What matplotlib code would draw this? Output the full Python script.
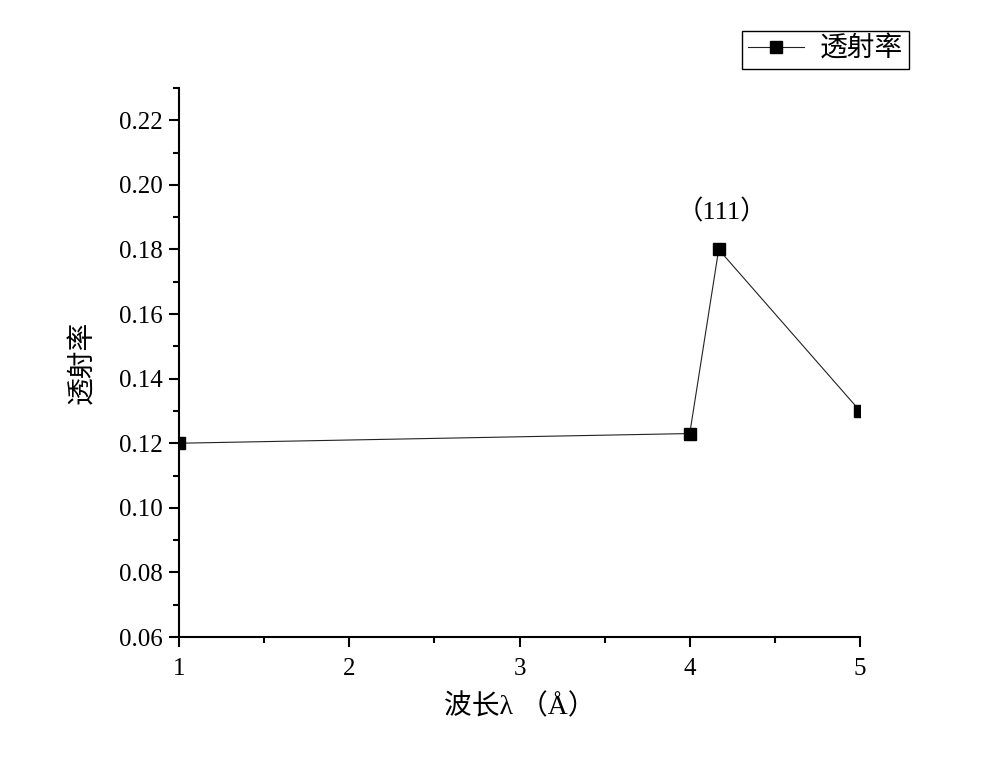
import matplotlib
matplotlib.use("Agg")
import matplotlib.pyplot as plt
from matplotlib.ticker import MultipleLocator, FixedLocator, FixedFormatter

plt.rcParams['font.family'] = ['Liberation Serif', 'Noto Sans CJK SC', 'DejaVu Sans']

# Data
wavelength = [1.0, 4.0, 4.17, 5.0]
transmittance = [0.120, 0.123, 0.180, 0.130]
series_name = "透射率"
peak_label = "（111）"
x_label = "波长λ （Å）"
y_label = "透射率"
x_ticks = [1, 2, 3, 4, 5]
x_tick_labels = ["1", "2", "3", "4", "5"]
y_ticks = [0.06, 0.08, 0.10, 0.12, 0.14, 0.16, 0.18, 0.20, 0.22]
y_tick_labels = ["0.06", "0.08", "0.10", "0.12", "0.14", "0.16", "0.18", "0.20", "0.22"]

fig = plt.figure(figsize=(10, 7.65), dpi=100)
ax = fig.add_axes([0.179, 0.1673, 0.681, 0.7177])

line, = ax.plot(wavelength, transmittance, color='#222222', linewidth=0.8,
                marker='s', markersize=9, markerfacecolor='black',
                markeredgecolor='black', label=series_name, clip_on=True)

ax.set_xlim(1, 5)
ax.set_ylim(0.06, 0.23)

ax.xaxis.set_major_locator(FixedLocator(x_ticks))
ax.xaxis.set_major_formatter(FixedFormatter(x_tick_labels))
ax.xaxis.set_minor_locator(MultipleLocator(0.5))
ax.yaxis.set_major_locator(FixedLocator(y_ticks))
ax.yaxis.set_major_formatter(FixedFormatter(y_tick_labels))
ax.yaxis.set_minor_locator(MultipleLocator(0.01))

for s in ['top', 'right']:
    ax.spines[s].set_visible(False)
for s in ['left', 'bottom']:
    ax.spines[s].set_linewidth(1.5)

ax.tick_params(axis='both', which='major', direction='out', length=7, width=1.5,
               labelsize=18, pad=5)
ax.tick_params(axis='x', which='major', pad=8)
ax.tick_params(axis='both', which='minor', direction='out', length=4, width=1.5)

ax.set_xlabel(x_label, fontsize=20, labelpad=10)
ax.set_ylabel(y_label, fontsize=20, labelpad=16)

ax.annotate(peak_label, xy=(wavelength[2], transmittance[2]), xytext=(2, 27),
            textcoords='offset points', ha='center', va='center', fontsize=19)

fig.legend(handles=[line], loc='upper right', bbox_to_anchor=(0.909, 0.959),
           fontsize=20, frameon=True, fancybox=False, edgecolor='black',
           framealpha=1, borderpad=0.2, handlelength=2.0, handletextpad=0.6,
           borderaxespad=0)

fig.savefig("out.png", dpi=100)
